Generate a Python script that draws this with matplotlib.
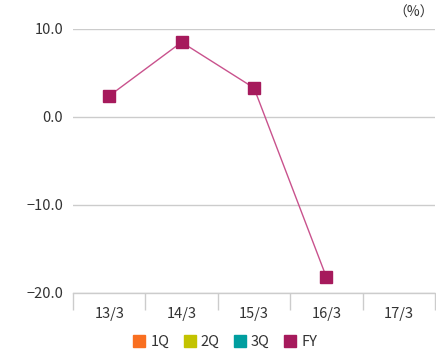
import numpy as np
import matplotlib.pyplot as plt
from matplotlib.lines import Line2D

plt.rcParams['font.family'] = ['Noto Sans CJK JP', 'DejaVu Sans']

# data
categories = ['13/3', '14/3', '15/3', '16/3', '17/3']
fy_values = [2.4, 8.5, 3.3, -18.2, np.nan]
series_names = ['1Q', '2Q', '3Q', 'FY']
series_colors = ['#f96f20', '#c3c300', '#009e9f', '#a61a5c']
y_ticks = [10.0, 0.0, -10.0, -20.0]

fig = plt.figure(figsize=(4.36, 3.6), dpi=100)
ax = fig.add_axes([73 / 436, 1 - 293 / 360, 362 / 436, 264 / 360])

x = np.arange(len(categories))
ax.plot(x, fy_values, color='#c9528d', linewidth=1.0, zorder=2)
ax.plot(x, fy_values, linestyle='none', marker='s', markersize=8.8,
        color=series_colors[3], zorder=3)

ax.set_xlim(-0.5, len(categories) - 0.5)
ax.set_ylim(-20, 10)

ax.set_yticks(y_ticks)
ax.set_yticklabels([('%.1f' % v).replace('-', '\u2212') for v in y_ticks])
ax.yaxis.grid(True, color='#cccccc', linewidth=1.0)
ax.set_axisbelow(True)
ax.tick_params(axis='y', length=0, pad=7, labelsize=10.5, colors='#333333')

# category boundaries as tick marks, labels in the middle
ax.set_xticks(np.arange(-0.5, len(categories)), minor=False)
ax.set_xticklabels([])
ax.set_xticks(x, minor=True)
ax.set_xticklabels(categories, minor=True)
ax.tick_params(axis='x', which='major', length=12, color='#cccccc', width=1.0)
ax.tick_params(axis='x', which='minor', length=0, pad=10, labelsize=10.5,
               colors='#333333')

for side in ['top', 'right', 'left']:
    ax.spines[side].set_visible(False)
ax.spines['bottom'].set_color('#cccccc')
ax.spines['bottom'].set_linewidth(1.0)

fig.text(434 / 436, 1 - 13 / 360, '（%）', ha='right', va='center',
         fontsize=10, color='#333333')

handles = [Line2D([], [], linestyle='none', marker='s', markersize=8.8,
                  color=c) for c in series_colors]
fig.legend(handles, series_names, loc='center', bbox_to_anchor=(0.516, 1 - 342 / 360),
           ncol=4, frameon=False, fontsize=10.5, handletextpad=0.3,
           columnspacing=0.95, handlelength=0.9, labelcolor='#333333')

fig.savefig('out.png', dpi=100)
